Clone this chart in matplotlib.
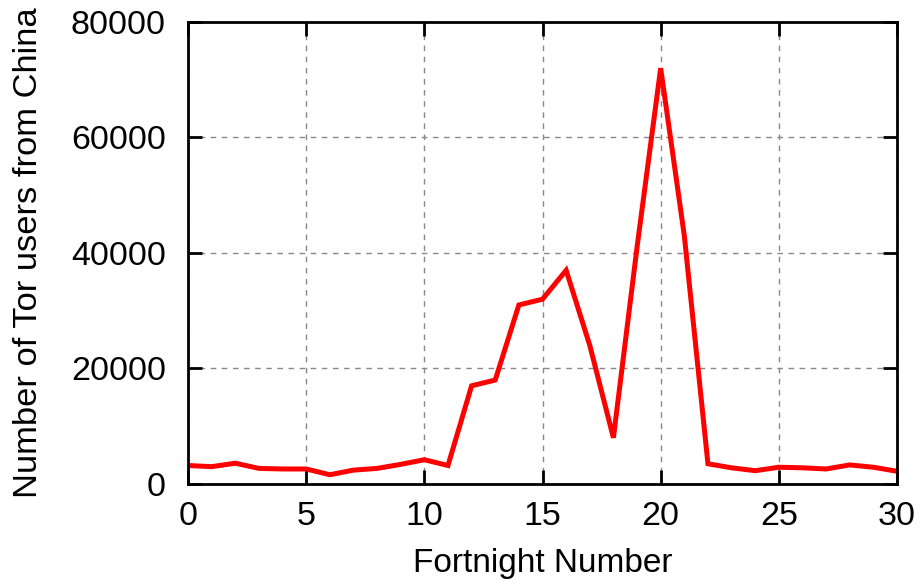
import matplotlib
matplotlib.use("Agg")
import matplotlib.pyplot as plt

fortnights = list(range(31))
users = [3200, 3000, 3600, 2700, 2600, 2600, 1600, 2400, 2700, 3400,
         4200, 3200, 17000, 18000, 31000, 32000, 37000, 24000, 8000, 41000,
         72000, 43000, 3500, 2800, 2300, 2900, 2800, 2600, 3300, 2900, 2200]
xticks = [0, 5, 10, 15, 20, 25, 30]
yticks = [0, 20000, 40000, 60000, 80000]

plt.rcParams['font.family'] = ['Liberation Sans', 'DejaVu Sans']
fig = plt.figure(figsize=(9.22, 5.88), dpi=100)
ax = fig.add_axes([0.2039, 0.1769, 0.769, 0.7857])
ax.plot(fortnights, users, color='#ff0000', linewidth=3.6, solid_joinstyle='miter')
ax.set_xlim(0, 30)
ax.set_ylim(0, 80000)
ax.set_xticks(xticks)
ax.set_yticks(yticks)
ax.grid(True, color='#888888', linestyle=(0, (4, 4)), linewidth=1.0)
ax.tick_params(direction='in', length=10, width=2, labelsize=24.5, top=True, right=True)
ax.tick_params(axis='x', pad=12)
ax.tick_params(axis='y', pad=16)
for s in ax.spines.values():
    s.set_linewidth(2)
ax.set_xlabel('Fortnight Number', fontsize=24, labelpad=12)
ax.set_ylabel('Number of Tor users from China', fontsize=24.8, labelpad=19)
fig.savefig('out.png', dpi=100)
